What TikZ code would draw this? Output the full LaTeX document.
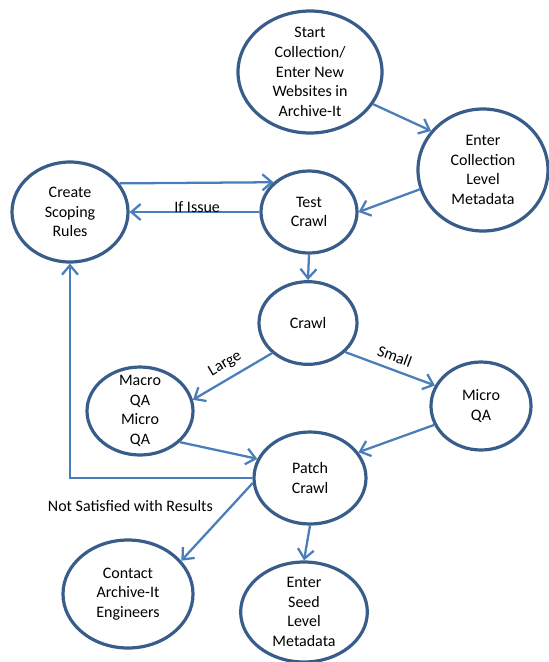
\documentclass[tikz,border=0pt]{standalone}
\usepackage{fontspec}
\setmainfont{Carlito}
\usetikzlibrary{shapes.geometric,arrows.meta}
\definecolor{rimblue}{HTML}{385D8A}
\definecolor{flowblue}{HTML}{4A7EBB}

\begin{document}
\begin{tikzpicture}[x=0.75pt, y=-0.75pt,
    every node/.style={font=\fontsize{12}{14.7}\selectfont},
    stage/.style={ellipse, draw=rimblue, line width=2.4pt, inner sep=-8pt, align=center},
    flow/.style={draw=flowblue, line width=1.7pt, -{Straight Barb[length=7pt,width=12pt]}},
    lbl/.style={inner sep=1pt}]
  \useasboundingbox (0,0) rectangle (549,662);
  \node[stage, minimum width=108pt, minimum height=91.5pt] (start) at (310,72) {Start\\Collection/\\Enter New\\Websites in\\Archive-It};
  \node[stage, minimum width=97.5pt, minimum height=91.5pt] (coll) at (483,170) {Enter\\Collection\\Level\\Metadata};
  \node[stage, minimum width=87pt, minimum height=75pt] (scope) at (70,212) {Create\\Scoping\\Rules};
  \node[stage, minimum width=72pt, minimum height=61.5pt] (test) at (309,212) {Test\\Crawl};
  \node[stage, minimum width=73.5pt, minimum height=62pt] (crawl) at (308,323) {Crawl};
  \node[stage, minimum width=79.5pt, minimum height=66pt] (macro) at (140,411) {Macro\\QA\\Micro\\QA};
  \node[stage, minimum width=75pt, minimum height=66pt] (micro) at (481,406) {Micro\\QA};
  \node[stage, minimum width=84pt, minimum height=69pt] (patch) at (310,478) {Patch\\Crawl};
  \node[stage, minimum width=97.5pt, minimum height=81pt] (contact) at (128,594) {Contact\\Archive-It\\Engineers};
  \node[stage, minimum width=95pt, minimum height=75pt] (seed) at (304,612) {Enter\\Seed\\Level\\Metadata};

  \draw[flow] (start.-27) -- (coll.143);
  \draw[flow] (coll.197) -- (test.east);
  \draw[flow] (scope.30) -- (test.140);
  \draw[flow] (test.west) -- node[lbl, above, yshift=-2pt, xshift=2pt]{If Issue} (scope.east);
  \draw[flow] (test.south) -- (crawl.north);
  \draw[flow] (crawl.220) -- node[lbl, sloped, above=4pt]{Large} (macro.12);
  \draw[flow] (crawl.-38) -- node[lbl, sloped, above=4pt]{Small} (micro.156);
  \draw[flow] (macro.-38) -- (patch.160);
  \draw[flow] (micro.202) -- (patch.28);
  \draw[flow] (patch.west) -| (scope.south);
  \draw[flow] (patch.185) -- node[lbl, pos=0.3, left=12pt]{Not Satisfied with Results} (contact.32);
  \draw[flow] (patch.south) -- (seed.north);
\end{tikzpicture}
\end{document}
